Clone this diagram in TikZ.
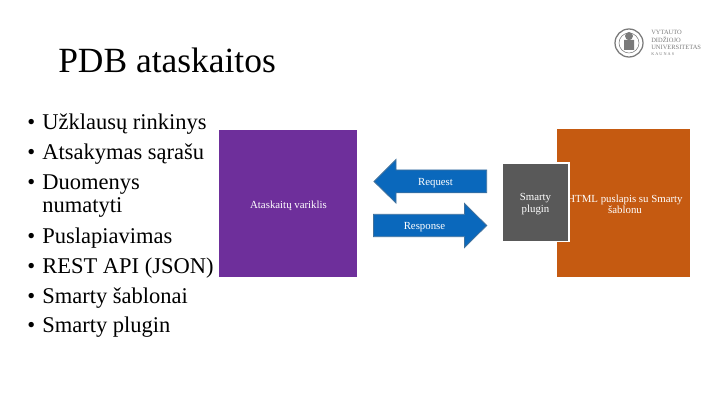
\documentclass[tikz,border=0pt]{standalone}
\usepackage{fontspec}
\setmainfont{Liberation Serif}
\usepackage{xcolor}
\definecolor{enginepurple}{HTML}{6E2F9B}
\definecolor{pageorange}{HTML}{C55A11}
\definecolor{plugingray}{HTML}{595959}
\definecolor{arrowblue}{HTML}{0A68BC}
\definecolor{arrowedge}{HTML}{41719C}
\definecolor{logogray}{HTML}{7A7A7A}
\tikzset{
  boxlabel/.style={text=white, font=\fontsize{7.7}{8.1}\selectfont, align=center, inner sep=0pt},
  flowarrow/.style={fill=arrowblue, draw=arrowedge, line width=0.6pt},
  bullettext/.style={anchor=base west, font=\fontsize{16}{18}\selectfont, inner sep=0pt},
  logotext/.style={anchor=base west, text=logogray, inner sep=0pt, font=\fontsize{4.6}{6}\selectfont},
}
\begin{document}
\begin{tikzpicture}[x=0.025cm, y=-0.025cm]
\useasboundingbox (0,0) rectangle (720,405);
% Title
\node[anchor=base west, inner sep=0pt, font=\fontsize{25.2}{30}\selectfont] (title) at (58,73) {PDB ataskaitos};
% Logo
\draw[logogray, line width=0.9pt] (629,43) circle (14);
\draw[logogray, line width=0.4pt] (629,43) circle (10);
\fill[logogray] (624,50) rectangle (634,40) (629,36) circle (4);
\node[logotext] (logoa) at (651,34.5) {VYTAUTO};
\node[logotext] (logob) at (651,42.5) {DIDŽIOJO};
\node[logotext] (logoc) at (651,50) {UNIVERSITETAS};
\node[logotext, font=\fontsize{3}{4}\selectfont] (logod) at (651,55.5) {K A U N A S};
% Bullet list
\foreach \i/\y/\txt in {1/130/Užklausų rinkinys,2/160/Atsakymas sąrašu,3/190/Duomenys,5/243/Puslapiavimas,6/273/REST API (JSON),7/303/Smarty šablonai,8/332/Smarty plugin}{
  \node[bullettext] (mark\i) at (27,\y) {•};
  \node[bullettext] (item\i) at (42,\y) {\txt};
}
\node[bullettext] (item4) at (42,213) {numatyti};
% Report engine
\fill[enginepurple] (219,130) rectangle (357,277);
\node[boxlabel] (engine) at (288.5,205.5) {Ataskaitų variklis};
% Page with the plugin on top
\fill[pageorange] (557,129) rectangle (690,277);
\node[boxlabel] (page) at (625,204) {HTML puslapis su Smarty\\šablonu};
\fill[white] (503,162.5) rectangle (569.7,242.5);
\fill[plugingray] (503,164) rectangle (567.5,241);
\node[boxlabel] (plugin) at (535.5,204) {Smarty\\plugin};
% Request and response
\draw[flowarrow] (374,181.5) -- (396,159.5) -- (396,170) -- (486.7,170) -- (486.7,192.8) -- (396,192.8) -- (396,203) -- cycle;
\draw[flowarrow] (486.7,225.5) -- (464.5,203.5) -- (464.5,214.3) -- (373.5,214.3) -- (373.5,236.7) -- (464.5,236.7) -- (464.5,247.5) -- cycle;
\node[boxlabel] (request) at (435.5,183) {Request};
\node[boxlabel] (response) at (424.5,227) {Response};
\end{tikzpicture}
\end{document}
